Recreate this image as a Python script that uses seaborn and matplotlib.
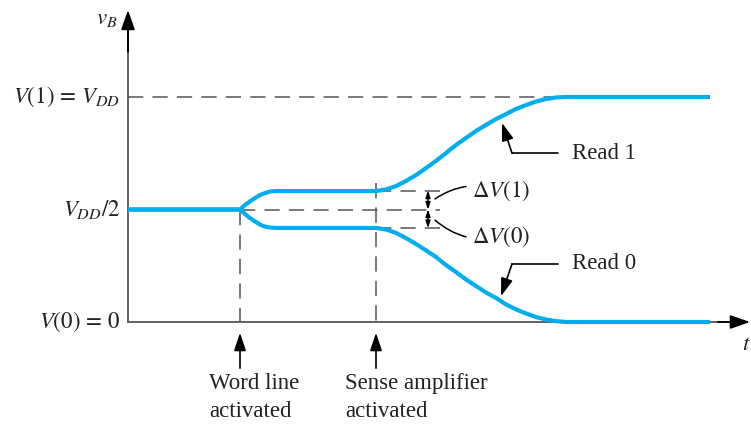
import numpy as np
import pandas as pd
import matplotlib
matplotlib.use("Agg")
import matplotlib.pyplot as plt
import seaborn as sns

# ---------------- data ----------------
t_points = [0.0, 1.12, 1.17, 1.22, 1.27, 1.32, 1.37, 1.42, 1.48,
            2.48, 2.58, 2.68, 2.78, 2.88, 2.98, 3.08, 3.18, 3.28, 3.38, 3.48,
            3.58, 3.68, 3.78, 3.88, 3.98, 4.08, 4.18, 4.28, 4.38, 4.48, 5.82]
v_read1 = [0.5, 0.5, 0.520, 0.536, 0.551, 0.564, 0.573, 0.580, 0.582,
           0.582, 0.589, 0.604, 0.627, 0.653, 0.684, 0.716, 0.751, 0.787, 0.818, 0.849,
           0.876, 0.902, 0.924, 0.947, 0.964, 0.980, 0.991, 0.998, 1.0, 1.0, 1.0]
v_read0 = [0.5, 0.5, 0.480, 0.462, 0.447, 0.433, 0.424, 0.420, 0.418,
           0.418, 0.411, 0.396, 0.373, 0.347, 0.318, 0.289, 0.253, 0.222, 0.189, 0.160,
           0.131, 0.107, 0.078, 0.056, 0.038, 0.022, 0.011, 0.004, 0.0, 0.0, 0.0]
series_names = ["Read 1", "Read 0"]

v_one = 1.0          # V(1) = VDD
v_half = 0.5         # VDD/2
v_zero = 0.0         # V(0) = 0
dv1_level = 0.584    # VDD/2 + ΔV(1)
dv0_level = 0.418    # VDD/2 - ΔV(0)
t_word = 1.12        # word line activated
t_sense = 2.48       # sense amplifier activated
t_delta = 3.0        # position of ΔV markers
t_settle = 4.42

ytick_labels = [r"$V(1)\,=\,V_{DD}$", r"$V_{DD}/2$", r"$V(0)\,=\,0$"]
event_labels = ["Word line\nactivated", "Sense amplifier\nactivated"]

# ---------------- figure ----------------
sns.set_theme(style="white")
plt.rcParams["font.family"] = ["Liberation Serif", "DejaVu Serif"]
plt.rcParams["mathtext.fontset"] = "stix"

W, H = 751, 424
fig = plt.figure(figsize=(W / 100, H / 100), dpi=100)
ax = fig.add_axes([0, 0, 1, 1])
# data mapping: t = (px-128)/100 ; v = (322-py)/225
ax.set_xlim(-1.28, (W - 128) / 100)
ax.set_ylim((322 - H) / 225, 322 / 225)
ax.set_axis_off()

blue = "#00AEEF"
gray = "#555555"
txt = "#222222"

df = pd.DataFrame({
    "t": t_points * 2,
    "v": v_read1 + v_read0,
    "series": [series_names[0]] * len(t_points) + [series_names[1]] * len(t_points),
})
sns.lineplot(data=df, x="t", y="v", hue="series", palette=[blue, blue],
             linewidth=3.0, legend=False, ax=ax, sort=False,
             solid_capstyle="butt", solid_joinstyle="round", zorder=5)

# axes with arrows
ax.annotate("", xy=(6.22, 0), xytext=(5.9, 0),
            arrowprops=dict(arrowstyle="-|>,head_length=1.0,head_width=0.35",
                            lw=1.3, shrinkA=0, shrinkB=0, fc="black", ec="black"))
ax.plot([0, 6.0], [0, 0], color=gray, lw=1.3, zorder=2)
ax.annotate("", xy=(0, 1.387), xytext=(0, 1.2),
            arrowprops=dict(arrowstyle="-|>,head_length=1.0,head_width=0.35",
                            lw=1.3, shrinkA=0, shrinkB=0, fc="black", ec="black"))
ax.plot([0, 0], [0, 1.30], color=gray, lw=1.3, zorder=2)

dash = dict(color=gray, lw=1.1, dashes=(10, 6), zorder=3)
ax.plot([0, t_settle], [v_one, v_one], **dash)
ax.plot([t_word, 3.12], [v_half, v_half], **dash)
ax.plot([t_sense, 3.12], [dv1_level, dv1_level], **dash)
ax.plot([t_sense, 3.12], [dv0_level, dv0_level], **dash)
ax.plot([t_word, t_word], [v_half, 0], **dash)
ax.plot([t_sense, t_sense], [0.62, 0], **dash)

# ΔV double arrows
for a, b in [(dv1_level, v_half), (v_half, dv0_level)]:
    ax.annotate("", xy=(t_delta, a), xytext=(t_delta, b),
                arrowprops=dict(arrowstyle="<|-|>,head_length=0.35,head_width=0.12",
                                color="black", lw=1.0, shrinkA=0, shrinkB=0))

fs = 16.5
ax.annotate(r"$\Delta V(1)$", xy=(3.07, 0.547), xytext=(3.44, 0.585),
            fontsize=fs, va="center", ha="left", color=txt,
            arrowprops=dict(arrowstyle="-", color="black", lw=1.1,
                            shrinkA=2, shrinkB=0,
                            connectionstyle="arc3,rad=0.25"))
ax.annotate(r"$\Delta V(0)$", xy=(3.07, 0.453), xytext=(3.44, 0.378),
            fontsize=fs, va="center", ha="left", color=txt,
            arrowprops=dict(arrowstyle="-", color="black", lw=1.1,
                            shrinkA=2, shrinkB=0,
                            connectionstyle="arc3,rad=-0.25"))

# Read 1 / Read 0 leaders
ax.plot([4.30, 3.84], [0.750, 0.750], color="black", lw=1.2)
ax.annotate("", xy=(3.74, 0.885), xytext=(3.84, 0.750),
            arrowprops=dict(arrowstyle="-|>,head_length=0.9,head_width=0.3",
                            color="black", lw=1.2, shrinkA=0, shrinkB=0))
ax.text(4.44, 0.750, series_names[0], fontsize=fs, va="center", ha="left", color=txt)

ax.plot([4.30, 3.84], [0.258, 0.258], color="black", lw=1.2)
ax.annotate("", xy=(3.73, 0.115), xytext=(3.84, 0.258),
            arrowprops=dict(arrowstyle="-|>,head_length=0.9,head_width=0.3",
                            color="black", lw=1.2, shrinkA=0, shrinkB=0))
ax.text(4.44, 0.258, series_names[1], fontsize=fs, va="center", ha="left", color=txt)

# y level labels
for lvl, lab in zip([v_one, v_half, v_zero], ytick_labels):
    ax.text(-0.08, lvl, lab, fontsize=fs, ha="right", va="center", color=txt)

# axis names
ax.text(-0.1, 1.35, r"$v_B$", fontsize=fs, ha="right", va="center", color=txt)
ax.text(6.18, -0.10, r"$t$", fontsize=fs, ha="center", va="center", color=txt)

# event arrows and labels
for tt, lab in zip([t_word, t_sense], event_labels):
    ax.annotate("", xy=(tt, -0.048), xytext=(tt, -0.205),
                arrowprops=dict(arrowstyle="-|>,head_length=0.9,head_width=0.3",
                                color="black", lw=1.2, shrinkA=0, shrinkB=0))
    ax.text(tt - 0.31, -0.228, lab, fontsize=fs, ha="left", va="top",
            color=txt, linespacing=1.4)

fig.savefig("out.png", dpi=100)
